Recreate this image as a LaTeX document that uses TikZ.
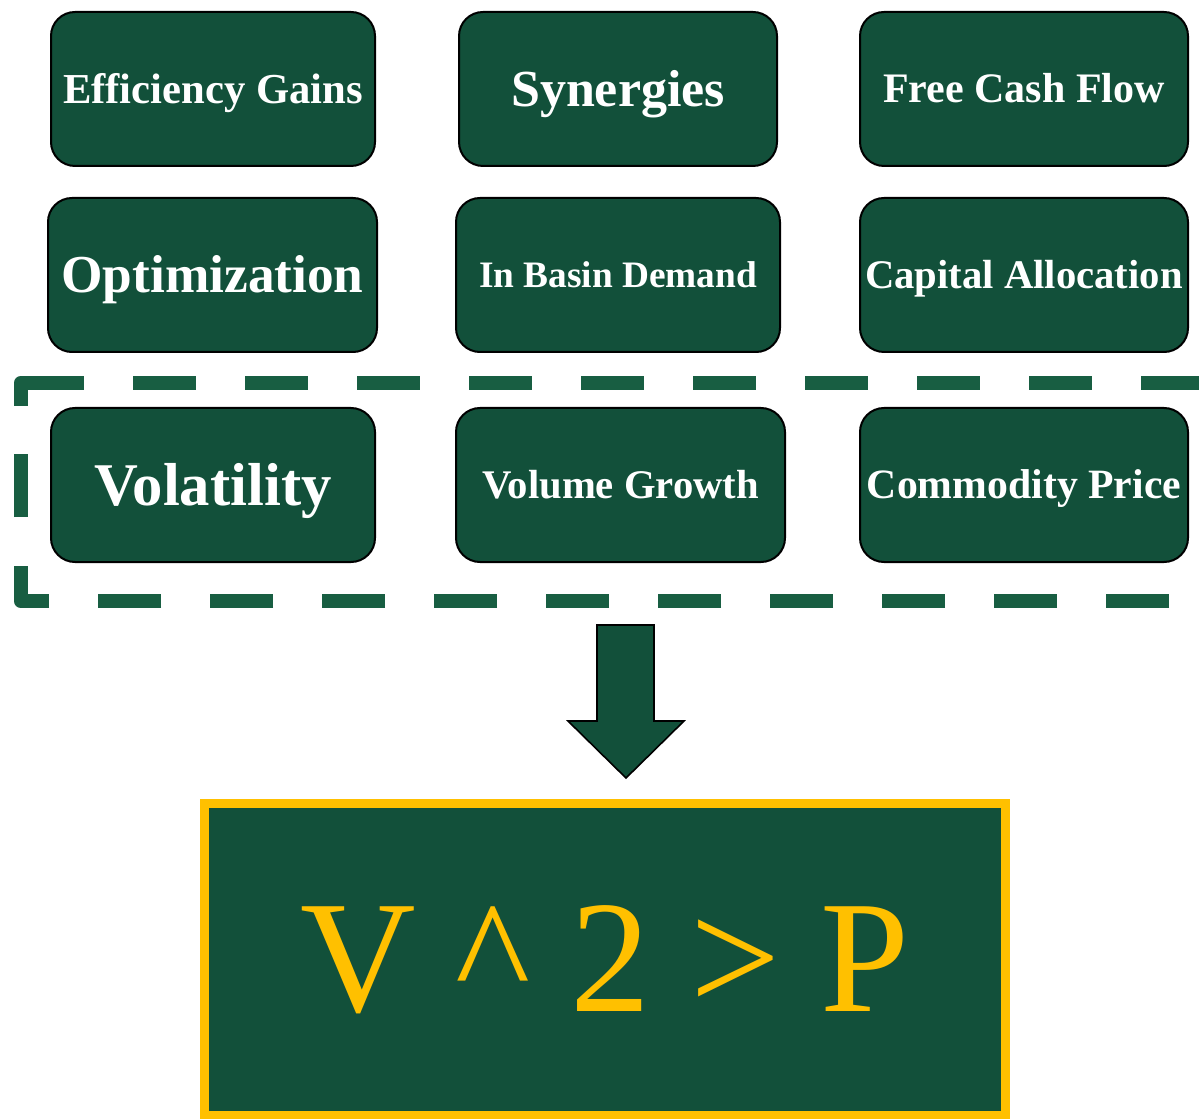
\documentclass[tikz,border=0pt]{standalone}
\usepackage{fontspec}
\setmainfont{Liberation Serif}
\definecolor{boxgreen}{HTML}{12503A}
\definecolor{dashgreen}{HTML}{185E42}
\definecolor{gold}{HTML}{FFC000}
\begin{document}
\begin{tikzpicture}[x=0.75pt,y=-0.75pt,
  tile/.style={draw=black, line width=1.5pt, fill=boxgreen, text=white,
    rounded corners=18pt, minimum height=115.5pt, inner sep=0pt},
  fs/.style={font={\bfseries\fontsize{#1}{#1}\selectfont}, text height={0.66*#1pt}, text depth=0pt},
  groupline/.style={draw=dashgreen, line width=11pt, line join=round, dash pattern=on 47.25pt off 36.75pt},
  groupcorner/.style={draw=dashgreen, line width=11pt, line join=round},
  bigarrow/.style={draw=black, line width=1.2pt, fill=boxgreen, line join=miter},
  result/.style={draw=gold, fill=boxgreen, line width=6.75pt, text=gold, inner sep=0pt,
    font={\fontsize{120}{120}\selectfont}, text height=79pt, text depth=0pt}
]
\useasboundingbox (0,0) rectangle (1199,1119);
\clip (0,0) rectangle (1199,1119);

% row 1
\node[tile, fs=32, minimum width=243pt] (eff) at (213,89) {Efficiency Gains};
\node[tile, fs=39, minimum width=238.5pt] (syn) at (618,89) {Synergies};
\node[tile, fs=31.5, minimum width=246pt] (fcf) at (1024,89) {Free Cash Flow};
% row 2
\node[tile, fs=40, minimum width=246.75pt] (opt) at (212.5,275) {Optimization};
\node[tile, fs=28, minimum width=243pt] (ibd) at (618,275) {In Basin Demand};
\node[tile, fs=30.5, minimum width=246pt] (cap) at (1024,275) {Capital Allocation};
% row 3
\node[tile, fs=45.5, minimum width=243pt] (vol) at (213,485) {Volatility};
\node[tile, fs=30.5, minimum width=246.75pt] (vg) at (620.5,485) {Volume Growth};
\node[tile, fs=31.3, minimum width=246pt] (cp) at (1024,485) {Commodity Price};

% dashed group
\draw[groupline] (21,383) -- (1214,383) -- (1214,601) -- (21,601) -- cycle;
\draw[groupcorner] (21,406) -- (21,383) -- (84,383);

% arrow
\draw[bigarrow] (597,625) -- (654,625) -- (654,721) -- (684,721) -- (626,778)
  -- (568,721) -- (597,721) -- cycle;

% result
\node[result, minimum width=600.75pt, minimum height=234pt] (res) at (605,959) {V \^{} 2 {\textgreater} P};
\end{tikzpicture}
\end{document}
